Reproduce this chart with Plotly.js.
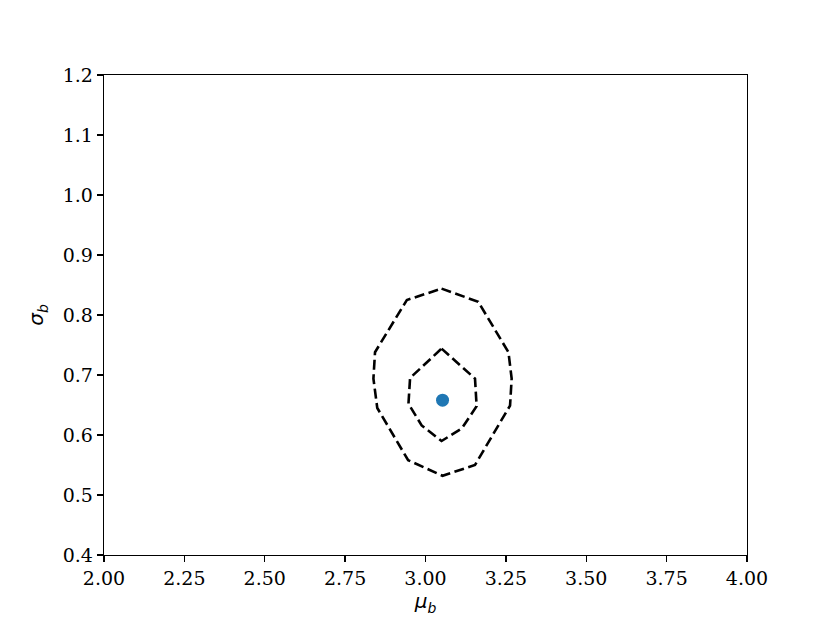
<!DOCTYPE html>
<html>
<head>
<meta charset="utf-8">
<script src="https://cdn.plot.ly/plotly-3.0.1.min.js"></script>
<style>
  html, body { margin: 0; padding: 0; background: #fff; }
  #plot { width: 830px; height: 623px; }
</style>
</head>
<body>
<div id="plot"></div>
<script>
// outer contour (dashed)
const outerMu = [3.05, 3.164, 3.258, 3.268, 3.263, 3.154, 3.053, 2.946, 2.85, 2.838, 2.843, 2.942, 3.05];
const outerSigma = [0.844, 0.822, 0.738, 0.694, 0.649, 0.550, 0.532, 0.558, 0.645, 0.694, 0.738, 0.825, 0.844];

// inner contour (dashed)
const innerMu = [3.05, 3.154, 3.159, 3.113, 3.05, 2.988, 2.947, 2.952, 3.05];
const innerSigma = [0.744, 0.694, 0.648, 0.611, 0.590, 0.616, 0.652, 0.695, 0.744];

// best fit point
const bestMu = [3.053];
const bestSigma = [0.658];

const xTicks = [2.00, 2.25, 2.50, 2.75, 3.00, 3.25, 3.50, 3.75, 4.00];
const yTicks = [0.4, 0.5, 0.6, 0.7, 0.8, 0.9, 1.0, 1.1, 1.2];

const dashLine = { color: 'black', width: 2.6, dash: '10px,4.5px' };

const traces = [
    { x: outerMu, y: outerSigma, mode: 'lines', type: 'scatter', line: dashLine, hoverinfo: 'skip' },
    { x: innerMu, y: innerSigma, mode: 'lines', type: 'scatter', line: dashLine, hoverinfo: 'skip' },
    { x: bestMu, y: bestSigma, mode: 'markers', type: 'scatter',
      marker: { color: '#1f77b4', size: 13 } }
];

const tickFont = { family: 'DejaVu Serif', size: 19, color: 'black' };

const layout = {
    width: 830,
    height: 623,
    showlegend: false,
    paper_bgcolor: 'white',
    plot_bgcolor: 'white',
    margin: { l: 104, r: 83, t: 75, b: 68 },
    xaxis: {
        range: [2, 4],
        tickvals: xTicks,
        ticktext: xTicks.map(v => v.toFixed(2)),
        ticks: 'outside', ticklen: 6, tickwidth: 1.3, tickcolor: 'black',
        showline: true, linecolor: 'black', linewidth: 1.3, mirror: true,
        showgrid: false, zeroline: false,
        tickfont: tickFont,
        title: { text: '<i>μ</i><sub><i>b</i></sub>', font: { family: 'DejaVu Sans', size: 20, color: 'black' }, standoff: 6 }
    },
    yaxis: {
        range: [0.4, 1.2],
        tickvals: yTicks,
        ticktext: yTicks.map(v => v.toFixed(1)),
        ticks: 'outside', ticklen: 6, tickwidth: 1.3, tickcolor: 'black',
        showline: true, linecolor: 'black', linewidth: 1.3, mirror: true,
        showgrid: false, zeroline: false,
        tickfont: tickFont,
        title: { text: '<i>σ</i><sub><i>b</i></sub>', font: { family: 'DejaVu Sans', size: 20, color: 'black' }, standoff: 13 }
    }
};

Plotly.newPlot('plot', traces, layout, { staticPlot: true });
</script>
</body>
</html>
